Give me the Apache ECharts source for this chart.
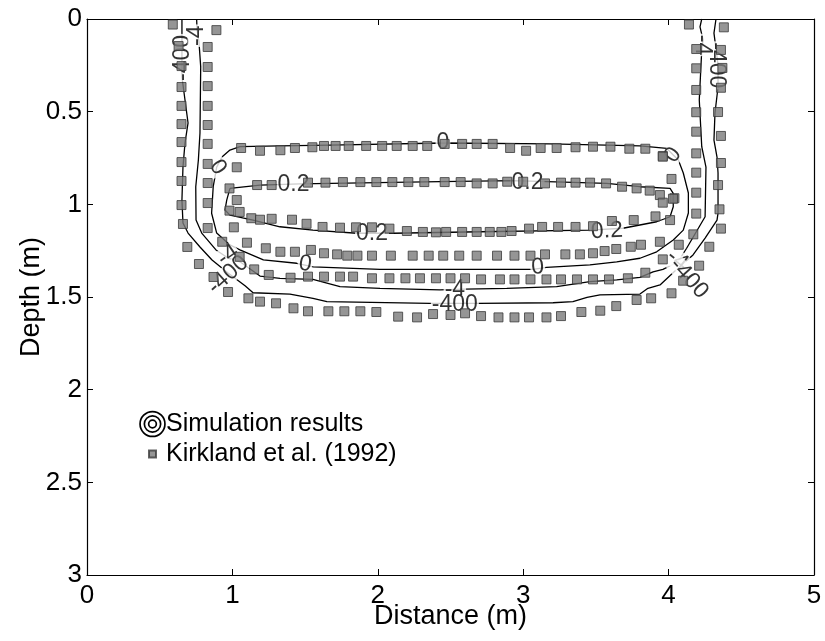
<!DOCTYPE html>
<html>
<head>
<meta charset="utf-8">
<title>Wetting front contours</title>
<script src="https://cdn.jsdelivr.net/npm/echarts@6/dist/echarts.min.js"></script>
<style>
  html, body { margin: 0; padding: 0; background: #fff; }
  #chart { width: 825px; height: 641px; }
</style>
</head>
<body>
<div id="chart"></div>
<script>
// Axis ticks
const xTicks = [0, 1, 2, 3, 4, 5];
const yTicks = [0, 0.5, 1, 1.5, 2, 2.5, 3];

// Simulated pressure-head contours, [distance m, depth m]
const contourM400 = [
  [0.653, 0], [0.653, 0.313], [0.674, 0.437], [0.695, 0.561], [0.674, 0.669], [0.66, 0.799],
  [0.653, 0.977], [0.66, 1.101], [0.695, 1.155], [0.777, 1.23], [0.86, 1.30], [0.97, 1.37],
  [1.087, 1.439], [1.142, 1.477], [1.396, 1.484], [1.554, 1.507], [1.65, 1.525], [2.359, 1.534],
  [2.689, 1.534], [3.205, 1.531], [3.342, 1.525], [3.439, 1.502], [3.528, 1.489], [3.803, 1.484],
  [3.858, 1.453], [3.941, 1.435], [4.051, 1.354], [4.168, 1.273], [4.251, 1.182], [4.333, 1.085],
  [4.34, 1.047], [4.34, 0.831], [4.333, 0.745], [4.312, 0.653], [4.319, 0.507], [4.34, 0.367],
  [4.34, 0.248], [4.312, 0.076], [4.326, 0]
];
const contourM4 = [
  [0.754, 0], [0.757, 0.059], [0.77, 0.124], [0.782, 0.257], [0.777, 0.615], [0.766, 0.761],
  [0.748, 0.905], [0.75, 1.085], [0.789, 1.155], [0.887, 1.246], [0.97, 1.29], [1.052, 1.31],
  [1.19, 1.387], [1.327, 1.399], [1.554, 1.405], [1.74, 1.444], [2.015, 1.453], [2.428, 1.462],
  [2.6, 1.458], [2.887, 1.453], [3.23, 1.444], [3.459, 1.417], [3.643, 1.408], [3.803, 1.394],
  [3.893, 1.364], [3.961, 1.351], [4.064, 1.311], [4.124, 1.237], [4.251, 1.067], [4.257, 0.799],
  [4.228, 0.689], [4.211, 0.437], [4.228, 0.167], [4.237, 0.113], [4.216, 0.043], [4.228, 0]
];
const contour0 = [
  [1.052, 0.689], [1.327, 0.685], [1.671, 0.68], [2.448, 0.669], [3.184, 0.674], [3.803, 0.685],
  [3.987, 0.698], [4.032, 0.734], [4.067, 0.761], [4.101, 0.831], [4.136, 0.939], [4.136, 1.047],
  [4.101, 1.139], [4.032, 1.192], [3.918, 1.256], [3.803, 1.291], [3.643, 1.31], [3.459, 1.327],
  [3.161, 1.34], [3.067, 1.351], [2.428, 1.351], [2.015, 1.351], [1.556, 1.337], [1.442, 1.318],
  [1.213, 1.30], [1.052, 1.246], [0.983, 1.219], [0.892, 1.155], [0.857, 1.048], [0.868, 0.905],
  [0.892, 0.799], [0.928, 0.745], [0.983, 0.707], [1.052, 0.689]
];
const contour02 = [
  [0.983, 0.914], [1.19, 0.896], [1.465, 0.89], [2.428, 0.878], [2.93, 0.872], [3.574, 0.887],
  [3.803, 0.905], [4.01, 0.914], [4.032, 0.941], [4.032, 1.013], [4.01, 1.067], [3.918, 1.094],
  [3.686, 1.129], [3.459, 1.139], [2.703, 1.148], [2.105, 1.156], [1.855, 1.156], [1.554, 1.139],
  [1.327, 1.121], [1.142, 1.085], [0.983, 1.058], [0.949, 1.031], [0.961, 0.977], [0.983, 0.914]
];

// Contour labels: text, position, rotation (deg)
const labelText = ['-400', '-4', '-400', '-4', '0', '0', '0', '0', '0', '0.2', '0.2', '0.2', '0.2',
  '-4', '-400', '-4', '-400', '-4', '-400'];
const labelPos = [[0.66, 0.21], [0.757, 0.09], [4.33, 0.25], [4.23, 0.14], [0.90, 0.80], [4.03, 0.734],
  [2.448, 0.669], [1.50, 1.322], [3.10, 1.34], [1.42, 0.896], [3.03, 0.885], [1.96, 1.16], [3.576, 1.144],
  [2.53, 1.462], [2.53, 1.54], [0.97, 1.275], [0.97, 1.38], [4.06, 1.30], [4.14, 1.40]];
const labelRot = [90, 90, -90, -90, -55, 53, 0, -8, 4, 0, 0, 0, 3, 0, 0, 35, 42, -38, -48];

// Kirkland et al. (1992) observed wetting-front points
const kirkX = [
  0.59, 0.63, 0.65, 0.65, 0.65, 0.65, 0.65, 0.65, 0.65, 0.65, 0.66, 0.69, 0.77, 0.87, 0.97,
  0.89, 0.83, 0.83, 0.83, 0.83, 0.83, 0.83, 0.83, 0.83, 0.83, 0.83,
  1.03, 1.03, 1.05, 1.01, 1.05,
  1.06, 1.19, 1.33, 1.43, 1.55, 1.63, 1.71, 1.80, 1.92, 2.03, 2.13, 2.24, 2.34, 2.46, 2.58, 2.68,
  2.79, 2.91, 3.02, 3.12, 3.23, 3.36, 3.48, 3.60, 3.73, 3.84, 3.96,
  0.98, 1.17, 1.27, 1.52, 1.64, 1.76, 1.88, 1.99, 2.10, 2.21, 2.32, 2.46, 2.57, 2.68, 2.79, 2.89,
  3.00, 3.15, 3.26, 3.36, 3.46, 3.57, 3.68, 3.78, 3.87, 3.94, 3.96, 4.04, 4.02,
  0.98, 1.13, 1.19, 1.27, 1.41, 1.51, 1.62, 1.74, 1.85, 1.96, 2.08, 2.20, 2.31, 2.40, 2.47, 2.58,
  2.68, 2.77, 2.85, 2.92, 3.04, 3.13, 3.24, 3.36, 3.48, 3.61, 3.76, 3.91, 4.01,
  0.93, 1.10, 1.23, 1.33, 1.43, 1.54, 1.63, 1.72, 1.79, 1.86, 1.96, 2.09, 2.24, 2.35, 2.45, 2.56,
  2.68, 2.82, 2.94, 3.05, 3.15, 3.29, 3.39, 3.48, 3.56, 3.64, 3.74, 3.81, 3.94, 4.07, 4.28,
  1.15, 1.25, 1.40, 1.52, 1.63, 1.74, 1.83, 1.96, 2.08, 2.19, 2.29, 2.40, 2.50, 2.60, 2.71, 2.84,
  2.94, 3.05, 3.16, 3.26, 3.37, 3.48, 3.59, 3.72, 3.84, 3.96, 4.21,
  1.11, 1.19, 1.30, 1.42, 1.52, 1.66, 1.77, 1.88, 1.99, 2.14, 2.27, 2.38, 2.50, 2.60, 2.71, 2.83,
  2.94, 3.04, 3.16, 3.26, 3.40, 3.53, 3.64, 3.78, 3.88, 4.02, 4.10,
  4.14, 4.19, 4.19, 4.19, 4.19, 4.19, 4.19, 4.19, 4.19, 4.19, 4.17,
  4.38, 4.36, 4.37, 4.36, 4.34, 4.36, 4.36, 4.34, 4.35, 4.36, 4.03, 3.96
];
const kirkY = [
  0.03, 0.146, 0.254, 0.367, 0.469, 0.567, 0.664, 0.772, 0.874, 1.004, 1.106, 1.23, 1.322, 1.392, 1.473,
  0.06, 0.151, 0.259, 0.362, 0.469, 0.572, 0.674, 0.782, 0.885, 0.993, 1.128,
  0.80, 0.977, 1.041, 1.124, 1.283,
  0.696, 0.711, 0.708, 0.696, 0.692, 0.685, 0.685, 0.685, 0.685, 0.685, 0.685, 0.685, 0.685, 0.674, 0.674, 0.674,
  0.674, 0.696, 0.711, 0.696, 0.696, 0.692, 0.689, 0.689, 0.70, 0.70, 0.739,
  0.914, 0.896, 0.896, 0.883, 0.883, 0.88, 0.88, 0.88, 0.88, 0.88, 0.88, 0.88, 0.88, 0.887, 0.887, 0.878,
  0.878, 0.887, 0.883, 0.883, 0.883, 0.887, 0.905, 0.914, 0.926, 0.95, 0.991, 0.967, 0.863,
  1.034, 1.075, 1.083, 1.078, 1.083, 1.105, 1.122, 1.126, 1.124, 1.124, 1.131, 1.144, 1.149, 1.151, 1.149, 1.149,
  1.149, 1.149, 1.149, 1.144, 1.131, 1.122, 1.122, 1.122, 1.118, 1.09, 1.085, 1.065, 1.085,
  1.202, 1.207, 1.237, 1.256, 1.256, 1.246, 1.264, 1.27, 1.277, 1.277, 1.277, 1.277, 1.277, 1.277, 1.277, 1.277,
  1.277, 1.277, 1.277, 1.277, 1.27, 1.27, 1.27, 1.264, 1.252, 1.241, 1.229, 1.218, 1.202, 1.218, 1.229,
  1.351, 1.381, 1.396, 1.39, 1.39, 1.39, 1.39, 1.399, 1.399, 1.399, 1.399, 1.399, 1.399, 1.399, 1.405, 1.405,
  1.405, 1.405, 1.405, 1.405, 1.405, 1.405, 1.405, 1.399, 1.369, 1.297, 1.331,
  1.507, 1.525, 1.534, 1.561, 1.577, 1.577, 1.577, 1.577, 1.581, 1.606, 1.61, 1.592, 1.597, 1.588, 1.603, 1.61,
  1.61, 1.61, 1.61, 1.603, 1.581, 1.574, 1.549, 1.516, 1.507, 1.48, 1.412,
  0.03, 0.162, 0.266, 0.383, 0.503, 0.608, 0.725, 0.829, 0.937, 1.05, 1.162,
  0.045, 0.167, 0.264, 0.371, 0.502, 0.631, 0.777, 0.896, 1.027, 1.131, 0.97, 0.743
];

const kirkData = kirkX.map((x, i) => [x, kirkY[i]]);
const labelData = labelText.map((t, i) => ({
  name: t,
  value: labelPos[i],
  label: { rotate: labelRot[i] }
}));

// Concentric-ring legend glyph in a 27x30 box (nonzero fill: outer CW, inner CCW)
const CX = 13.5, CY = 15;
function ring(r, w) {
  const ri = r - w;
  return 'M' + CX + ' ' + (CY - r) + ' A' + r + ' ' + r + ' 0 1 1 ' + CX + ' ' + (CY + r) +
    ' A' + r + ' ' + r + ' 0 1 1 ' + CX + ' ' + (CY - r) + ' Z ' +
    'M' + CX + ' ' + (CY - ri) + ' A' + ri + ' ' + ri + ' 0 1 0 ' + CX + ' ' + (CY + ri) +
    ' A' + ri + ' ' + ri + ' 0 1 0 ' + CX + ' ' + (CY - ri) + ' Z ';
}
const ringIcon = 'path://M0 0 M27 30 ' + ring(13.3, 1.7) + ring(9.0, 1.7) + ring(4.7, 1.7);
const squareIcon = 'path://M0 0 M27 30 M10 11.5 L17 11.5 L17 18.5 L10 18.5 Z';

const lineStyle = { color: '#000', width: 1.3 };
function contourSeries(data) {
  return {
    name: 'Simulation results',
    type: 'line',
    data: data,
    symbol: 'none',
    showSymbol: false,
    smooth: false,
    lineStyle: lineStyle,
    itemStyle: { color: '#000' },
    z: 2,
    silent: true
  };
}

const font = 'Liberation Sans, Arial, Helvetica, sans-serif';
const chart = echarts.init(document.getElementById('chart'), null, { renderer: 'canvas' });

chart.setOption({
  animation: false,
  backgroundColor: '#fff',
  textStyle: { fontFamily: font },
  grid: { left: 87, right: 11, top: 19, bottom: 66, containLabel: false },
  legend: {
    orient: 'vertical',
    left: 133,
    top: 404,
    itemWidth: 27,
    itemHeight: 30,
    itemGap: -1,
    selectedMode: false,
    textStyle: { fontSize: 25, color: '#000', fontFamily: font, padding: [0, 0, 0, -5] },
    data: [
      { name: 'Simulation results', icon: ringIcon, itemStyle: { color: '#000', borderWidth: 0 } },
      { name: 'Kirkland et al. (1992)', icon: squareIcon }
    ]
  },
  xAxis: [{
    type: 'value', min: 0, max: 5, interval: 1, position: 'bottom',
    name: 'Distance (m)', nameLocation: 'middle', nameGap: 28, nameMoveOverlap: false,
    nameTextStyle: { fontSize: 27, color: '#000', fontFamily: font },
    axisLine: { show: true, onZero: false, lineStyle: { color: '#000', width: 1.2 } },
    axisTick: { show: true, inside: true, length: 6, lineStyle: { color: '#000' } },
    axisLabel: { fontSize: 26, color: '#000', margin: 8, fontFamily: font,
      formatter: v => xTicks.includes(v) ? String(v) : '' },
    splitLine: { show: false }
  }, {
    type: 'value', min: 0, max: 5, interval: 1, position: 'top',
    axisLine: { show: true, onZero: false, lineStyle: { color: '#000', width: 1.2 } },
    axisTick: { show: true, inside: true, length: 6, lineStyle: { color: '#000' } },
    axisLabel: { show: false },
    splitLine: { show: false }
  }],
  yAxis: [{
    type: 'value', min: 0, max: 3, interval: 0.5, inverse: true, position: 'left',
    name: 'Depth (m)', nameLocation: 'middle', nameGap: 42, nameRotate: 90, nameMoveOverlap: false,
    nameTextStyle: { fontSize: 27, color: '#000', fontFamily: font },
    axisLine: { show: true, onZero: false, lineStyle: { color: '#000', width: 1.2 } },
    axisTick: { show: true, inside: true, length: 6, lineStyle: { color: '#000' } },
    axisLabel: { fontSize: 26, color: '#000', margin: 5, fontFamily: font,
      formatter: v => yTicks.includes(v) ? String(v) : '' },
    splitLine: { show: false }
  }, {
    type: 'value', min: 0, max: 3, interval: 0.5, inverse: true, position: 'right',
    axisLine: { show: true, onZero: false, lineStyle: { color: '#000', width: 1.2 } },
    axisTick: { show: true, inside: true, length: 6, lineStyle: { color: '#000' } },
    axisLabel: { show: false },
    splitLine: { show: false }
  }],
  series: [
    contourSeries(contourM400),
    contourSeries(contourM4),
    contourSeries(contour0),
    contourSeries(contour02),
    {
      name: 'contour labels',
      type: 'scatter',
      data: labelData,
      symbolSize: 0,
      z: 3,
      silent: true,
      label: {
        show: true,
        position: 'inside',
        formatter: '{b}',
        fontSize: 23,
        color: '#000',
        fontFamily: font,
        backgroundColor: '#fff',
        padding: [-2, 1]
      }
    },
    {
      name: 'Kirkland et al. (1992)',
      type: 'scatter',
      data: kirkData,
      symbol: 'rect',
      symbolSize: 9,
      z: 4,
      silent: true,
      itemStyle: { color: '#7a7a7a', borderColor: '#3a3a3a', borderWidth: 1 }
    }
  ]
});
</script>
</body>
</html>
